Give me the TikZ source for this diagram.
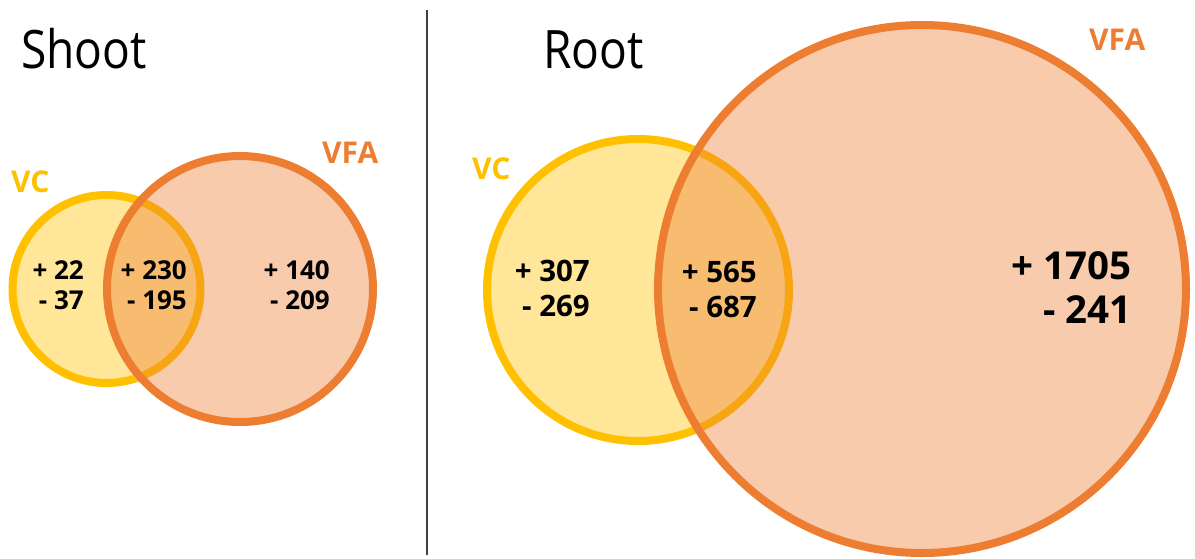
\documentclass[tikz,border=0pt]{standalone}
\usepackage{fontspec}
\setmainfont{Open Sans}
\newfontfamily\titlefont[FakeStretch=0.87]{Open Sans}
\definecolor{vcgold}{HTML}{FFC000}
\definecolor{vfaor}{HTML}{ED7D31}
\definecolor{divgray}{HTML}{404040}
\begin{document}
\begin{tikzpicture}[x=1pt,y=-1pt,
  vcfill/.style={fill=vcgold, fill opacity=0.4},
  vcline/.style={draw=vcgold, line width=8pt},
  vfafill/.style={fill=vfaor, fill opacity=0.4},
  vfaline/.style={draw=vfaor, line width=8pt},
  title/.style={font=\titlefont\fontsize{53}{58}\selectfont, anchor=base west, inner sep=0pt},
  setlabel/.style={font=\bfseries\fontsize{30}{34}\selectfont, anchor=base west, inner sep=0pt},
  numsmall/.style={font=\bfseries\fontsize{26}{30}\selectfont, align=right, anchor=east, inner sep=0pt},
  nummid/.style={font=\bfseries\fontsize{29.5}{35}\selectfont, align=right, anchor=east, inner sep=0pt},
  numbig/.style={font=\bfseries\fontsize{38.5}{44}\selectfont, align=right, anchor=east, inner sep=0pt}
]
\useasboundingbox (0,0) rectangle (1195,558);
% centres
\coordinate (svc) at (106.5,289);
\coordinate (svfa) at (240,289);
\coordinate (rvc) at (638,290);
\coordinate (rvfa) at (922,289);
% Shoot
\fill[vcfill] (svc) circle (94);
\draw[vcline] (svc) circle (94);
\fill[vfafill] (svfa) circle (133);
\draw[vfaline] (svfa) circle (133);
% Root
\fill[vcfill] (rvc) circle (151);
\draw[vcline] (rvc) circle (151);
\fill[vfafill] (rvfa) circle (264);
\draw[vfaline] (rvfa) circle (264);
% divider
\coordinate (dtop) at (427,10);
\coordinate (dbot) at (427,555);
\draw[divgray, line width=1.5pt] (dtop) -- (dbot);
% titles
\node[title] (tshoot) at (21,68) {Shoot};
\node[title] (troot) at (543,68) {Root};
% set labels
\node[setlabel, text=vcgold] (lsvc) at (11,192) {VC};
\node[setlabel, text=vfaor] (lsvfa) at (322,163) {VFA};
\node[setlabel, text=vcgold] (lrvc) at (472,179) {VC};
\node[setlabel, text=vfaor] (lrvfa) at (1089,50) {VFA};
% numbers
\node[numsmall] (n1) at (84,285) {+ 22\\- 37};
\node[numsmall] (n2) at (187,285) {+ 230\\- 195};
\node[numsmall] (n3) at (330,285) {+ 140\\- 209};
\node[nummid] (n4) at (590,288) {+ 307\\- 269};
\node[nummid] (n5) at (757,289) {+ 565\\- 687};
\node[numbig] (n6) at (1132,288) {+ 1705\\- 241};
\end{tikzpicture}
\end{document}
